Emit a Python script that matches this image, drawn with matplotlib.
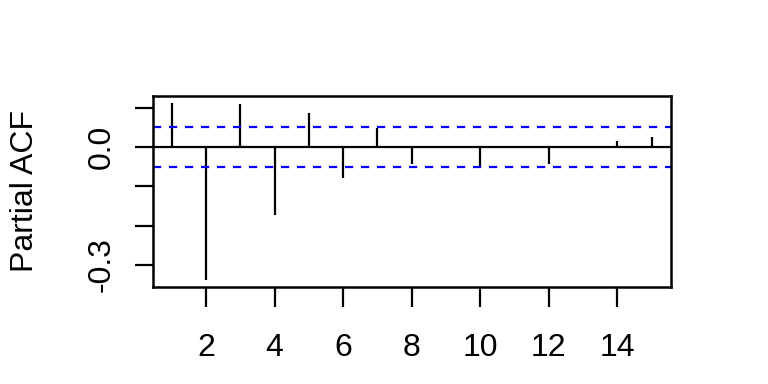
import matplotlib
matplotlib.use('Agg')
import matplotlib.pyplot as plt

plt.rcParams['font.family'] = ['Liberation Sans', 'DejaVu Sans']

# partial autocorrelations
lags = [1, 2, 3, 4, 5, 6, 7, 8, 9, 10, 11, 12, 13, 14, 15]
pacf = [0.113, -0.338, 0.110, -0.173, 0.088, -0.080, 0.049, -0.042,
        -0.002, -0.051, 0.001, -0.042, 0.004, 0.0145, 0.025]
clim = 0.051
yticks = [0.1, 0.0, -0.1, -0.2, -0.3]
ytick_labels = ['', '0.0', '', '', '-0.3']
xticks = [2, 4, 6, 8, 10, 12, 14]


def plot():
    fig = plt.figure(figsize=(7.68, 3.84), dpi=100)
    ax = fig.add_axes([0.1986, 0.2534, 0.8733 - 0.1986, 0.7508 - 0.2534])

    lw = 1.6
    ax.vlines(lags, 0, pacf, colors='k', lw=lw)
    ax.axhline(0, color='k', lw=lw)
    ax.axhline(clim, color='blue', lw=lw, ls=(0, (3.7, 3.5)))
    ax.axhline(-clim, color='blue', lw=lw, ls=(0, (3.7, 3.5)))

    # R style axis limits (4% expansion)
    lo = min(min(pacf), -clim)
    hi = max(max(pacf), clim)
    pad = 0.04 * (hi - lo)
    ax.set_ylim(lo - pad, hi + pad)
    xpad = 0.04 * (lags[-1] - lags[0])
    ax.set_xlim(lags[0] - xpad, lags[-1] + xpad)

    fs = 23
    ax.set_xticks(xticks)
    ax.set_xticklabels([str(t) for t in xticks], fontsize=fs)
    ax.set_yticks(yticks)
    ax.set_yticklabels(ytick_labels, fontsize=fs, rotation=90, va='center')
    ax.tick_params(axis='x', length=14.4, width=lw, pad=19)
    ax.tick_params(axis='y', length=13, width=lw, pad=13)
    for s in ax.spines.values():
        s.set_linewidth(1.8)

    ax.set_ylabel('Partial ACF', fontsize=fs)
    ax.yaxis.set_label_coords(-0.217, 0.5)
    fig.savefig('out.png', dpi=100)


def main():
    plot()


if __name__ == '__main__':
    main()
